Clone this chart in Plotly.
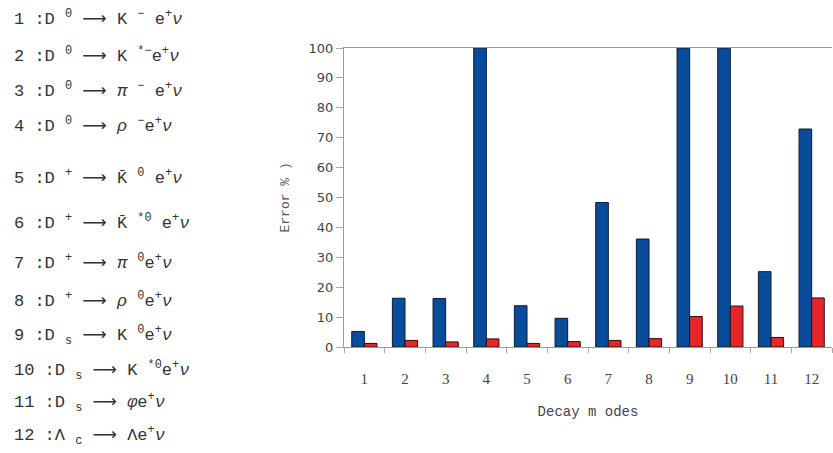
import plotly.graph_objects as go

# decay modes on the x axis
modes = [str(i) for i in range(1, 13)]
# relative error (%) of the two series
err_blue = [5.2, 16.3, 16.2, 100, 13.8, 9.6, 48.3, 36.1, 100, 100, 25.2, 72.9]
err_red = [1.2, 2.2, 1.7, 2.7, 1.2, 1.8, 2.2, 2.8, 10.2, 13.7, 3.2, 16.4]
y_ticks = [0, 10, 20, 30, 40, 50, 60, 70, 80, 90, 100]

ARR = '<span style="font-family:DejaVu Sans">⟶</span>'

# legend text on the left
decays = [
    "1 :D <sup>0</sup> " + ARR + " K <sup>−</sup> e<sup>+</sup><i>ν</i>",
    "2 :D <sup>0</sup> " + ARR + " K <sup>*−</sup>e<sup>+</sup><i>ν</i>",
    "3 :D <sup>0</sup> " + ARR + " <i>π</i> <sup>−</sup> e<sup>+</sup><i>ν</i>",
    "4 :D <sup>0</sup> " + ARR + " <i>ρ</i> <sup>−</sup>e<sup>+</sup><i>ν</i>",
    "5 :D <sup>+</sup> " + ARR + " K\u0304 <sup>0</sup> e<sup>+</sup><i>ν</i>",
    "6 :D <sup>+</sup> " + ARR + " K\u0304 <sup>*0</sup> e<sup>+</sup><i>ν</i>",
    "7 :D <sup>+</sup> " + ARR + " <i>π</i> <sup>0</sup>e<sup>+</sup><i>ν</i>",
    "8 :D <sup>+</sup> " + ARR + " <i>ρ</i> <sup>0</sup>e<sup>+</sup><i>ν</i>",
    "9 :D <sub>s</sub> " + ARR + " K <sup>0</sup>e<sup>+</sup><i>ν</i>",
    "10 :D <sub>s</sub> " + ARR + " K <sup>*0</sup>e<sup>+</sup><i>ν</i>",
    "11 :D <sub>s</sub> " + ARR + " <i>φ</i>e<sup>+</sup><i>ν</i>",
    "12 :Λ <sub>c</sub> " + ARR + " Λe<sup>+</sup><i>ν</i>",
]
decay_y = [18, 55, 90, 125, 177, 222, 262, 300, 335, 370, 402, 435]

W, H = 833, 453
L, R, T, B = 344, 1, 48, 106
pw, ph = W - L - R, H - T - B

fig = go.Figure()
fig.add_trace(go.Bar(x=modes, y=err_blue, marker=dict(color="#0a4c9c", line=dict(color="#0a1a33", width=1))))
fig.add_trace(go.Bar(x=modes, y=err_red, marker=dict(color="#e8262a", line=dict(color="#2a0d0d", width=1))))

ann = []
for txt, yp in zip(decays, decay_y):
    ann.append(dict(text=txt, xref="paper", yref="paper", x=(12 - L) / pw, y=(H - B - yp) / ph,
                    xanchor="left", yanchor="middle", showarrow=False,
                    font=dict(family="Liberation Mono", size=17, color="#333")))
ann.append(dict(text="Error % )", xref="paper", yref="paper", x=(285 - L) / pw, y=0.5, textangle=-90,
                xanchor="center", yanchor="middle", showarrow=False,
                font=dict(family="Liberation Mono", size=13, color="#555")))

fig.update_layout(
    width=W, height=H, margin=dict(l=L, r=R, t=T, b=B, autoexpand=False),
    paper_bgcolor="white", plot_bgcolor="white",
    barmode="group", bargap=0.38, bargroupgap=0, showlegend=False,
    annotations=ann,
    xaxis=dict(showline=True, linecolor="#999", mirror=True, ticks="outside", tickson="boundaries",
               ticklen=5, tickcolor="#aaa", ticklabelstandoff=18,
               tickfont=dict(family="Liberation Serif", size=15, color="#444"),
               title=dict(text="Decay m odes", font=dict(family="Liberation Mono", size=14, color="#444"), standoff=20)),
    yaxis=dict(range=[0, 100], tickvals=y_ticks, showgrid=False, zeroline=False, showline=True,
               linecolor="#999", ticks="outside", ticklen=7, tickcolor="#aaa",
               tickfont=dict(family="DejaVu Sans", size=13, color="#444")),
)

# drop the browser's default body margin so the figure sits at the page corner
fig.write_html("out.html", config={"displayModeBar": False},
               post_script="document.body.style.margin='0';")
